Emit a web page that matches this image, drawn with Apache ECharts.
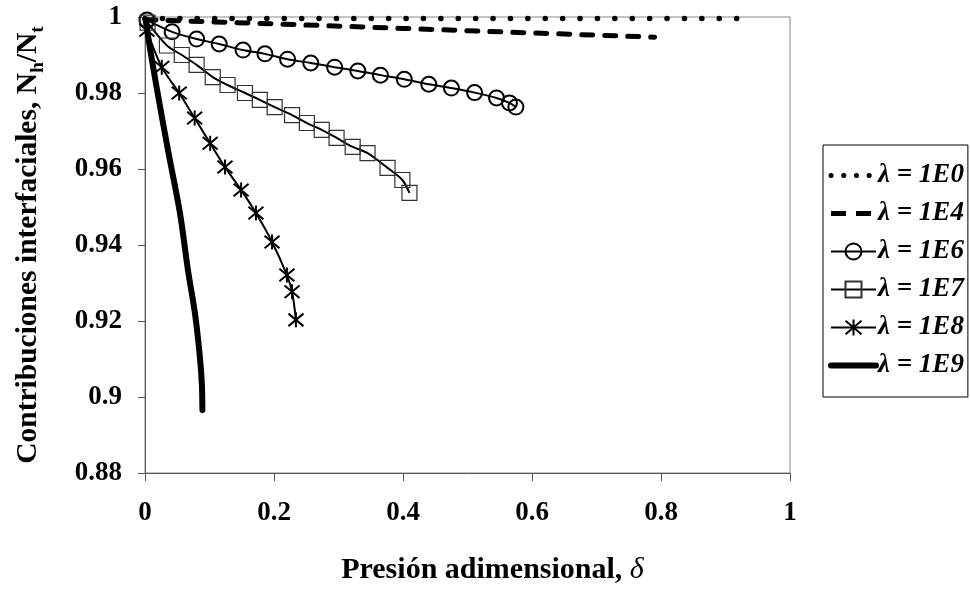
<!DOCTYPE html>
<html>
<head>
<meta charset="utf-8">
<script src="https://cdn.jsdelivr.net/npm/echarts@6/dist/echarts.min.js"></script>
<style>
html,body{margin:0;padding:0;background:#fff;}
#chart{width:970px;height:608px;}
</style>
</head>
<body>
<div id="chart"></div>
<script>
// ---- data ----
const seriesNames = ['λ = 1E0', 'λ = 1E4', 'λ = 1E6', 'λ = 1E7', 'λ = 1E8', 'λ = 1E9'];

const x1E0 = [0, 0.1, 0.2, 0.3, 0.4, 0.5, 0.6, 0.7, 0.8, 0.935];
const y1E0 = [0.9996, 0.9996, 0.9996, 0.9996, 0.9996, 0.9996, 0.9996, 0.9996, 0.9996, 0.9996];

const x1E4 = [0, 0.2, 0.4, 0.6, 0.79];
const y1E4 = [0.9993, 0.9982, 0.9970, 0.9958, 0.9947];

const x1E6 = [0.003, 0.042, 0.080, 0.115, 0.152, 0.186, 0.221, 0.257, 0.294, 0.330, 0.365, 0.402, 0.440, 0.475, 0.511, 0.545, 0.565, 0.575];
const y1E6 = [0.9992, 0.9961, 0.9942, 0.9929, 0.9913, 0.9903, 0.9889, 0.9879, 0.9868, 0.9858, 0.9847, 0.9836, 0.9823, 0.9813, 0.9801, 0.9787, 0.9774, 0.9763];

const x1E7 = [0.004, 0.034, 0.057, 0.080, 0.105, 0.128, 0.155, 0.178, 0.201, 0.228, 0.251, 0.274, 0.297, 0.322, 0.345, 0.376, 0.399, 0.410];
const y1E7 = [0.9985, 0.9925, 0.9900, 0.9874, 0.9842, 0.9821, 0.9800, 0.9782, 0.9763, 0.9742, 0.9721, 0.9703, 0.9682, 0.9658, 0.9642, 0.9603, 0.9571, 0.9537];

const x1E8 = [0.003, 0.026, 0.053, 0.077, 0.101, 0.124, 0.149, 0.172, 0.197, 0.220, 0.228, 0.234];
const y1E8 = [0.9965, 0.9868, 0.9800, 0.9734, 0.9668, 0.9605, 0.9545, 0.9484, 0.9408, 0.9321, 0.9277, 0.9203];

const x1E9 = [0.001, 0.008, 0.018, 0.0356, 0.0542, 0.0666, 0.0774, 0.0851, 0.0882, 0.089];
const y1E9 = [0.9992, 0.9915, 0.9815, 0.9650, 0.9484, 0.9334, 0.9221, 0.9105, 0.9032, 0.8966];

const xTicks = [0, 0.2, 0.4, 0.6, 0.8, 1];
const yTicks = [0.88, 0.9, 0.92, 0.94, 0.96, 0.98, 1];

function pairs(xs, ys){ return xs.map((x,i)=>[x, ys[i]]); }

const serif = '"Liberation Serif", "Times New Roman", serif';
const asterisk = 'path://M0,1L12,11M12,1L0,11M6,0L6,12';
const clear = 'rgba(255,255,255,0)';

const chart = echarts.init(document.getElementById('chart'), null, {renderer:'canvas'});
chart.setOption({
  animation:false,
  backgroundColor:'#fff',
  grid:{left:145, right:180, top:17, bottom:135, show:true, borderColor:'#888', borderWidth:1, backgroundColor:'transparent'},
  xAxis:{
    type:'value', min:xTicks[0], max:xTicks[xTicks.length-1], interval:0.2,
    axisLine:{show:true, onZero:false, lineStyle:{color:'#555', width:1}},
    axisTick:{show:true, inside:false, length:8, lineStyle:{color:'#555'}},
    splitLine:{show:false},
    axisLabel:{margin:27, fontFamily:serif, fontWeight:'bold', fontSize:27, color:'#000',
      formatter:v=>String(parseFloat(v.toFixed(2)))},
    name:'{b|Presión adimensional, }{i|δ}',
    nameLocation:'middle', nameGap:82,
    nameTextStyle:{padding:[0,0,0,50], rich:{
      b:{fontFamily:serif, fontWeight:'bold', fontSize:30, color:'#000'},
      i:{fontFamily:serif, fontStyle:'italic', fontSize:30, color:'#000'}
    }}
  },
  yAxis:{
    type:'value', min:yTicks[0], max:yTicks[yTicks.length-1], interval:0.02,
    axisLine:{show:true, onZero:false, lineStyle:{color:'#555', width:1}},
    axisTick:{show:true, inside:false, length:7, lineStyle:{color:'#555'}},
    splitLine:{show:false},
    axisLabel:{margin:23, fontFamily:serif, fontWeight:'bold', fontSize:27, color:'#000',
      formatter:v=>String(parseFloat(v.toFixed(2)))},
    name:'{b|Contribuciones interfaciales, N}{s|h}{b|/N}{s|t}',
    nameLocation:'middle', nameGap:97, nameRotate:90,
    nameTextStyle:{rich:{
      b:{fontFamily:serif, fontWeight:'bold', fontSize:29.5, color:'#000', lineHeight:40},
      s:{fontFamily:serif, fontWeight:'bold', fontSize:19.5, color:'#000', lineHeight:21, verticalAlign:'bottom'}
    }}
  },
  legend:{
    orient:'vertical', left:823, top:145,
    padding:[17, 4, 18, 5],
    itemWidth:45, itemHeight:20, itemGap:11,
    borderColor:'#000', borderWidth:1, backgroundColor:'#fff',
    textStyle:{fontFamily:serif, fontWeight:'bold', fontStyle:'italic', fontSize:27, color:'#000', padding:[0,0,0,-3]},
    data:[
      {name:seriesNames[0], lineStyle:{width:5, type:[0.1,12.6], cap:'round', color:'#000'}},
      {name:seriesNames[1], lineStyle:{width:5, type:[15,10], cap:'butt', color:'#000'}},
      {name:seriesNames[2]},
      {name:seriesNames[3]},
      {name:seriesNames[4]},
      {name:seriesNames[5], lineStyle:{width:6, color:'#000'}}
    ]
  },
  series:[
    {name:seriesNames[0], type:'line', data:pairs(x1E0,y1E0), showSymbol:false, symbol:'circle', symbolSize:0,
      lineStyle:{color:'#000', width:5.5, type:[0.1,17.3], cap:'round'}, itemStyle:{color:clear, borderWidth:0}},
    {name:seriesNames[1], type:'line', data:pairs(x1E4,y1E4), showSymbol:false, symbol:'circle', symbolSize:0,
      lineStyle:{color:'#000', width:5, type:[11,12], cap:'round'}, itemStyle:{color:clear, borderWidth:0}},
    {name:seriesNames[2], type:'line', data:pairs(x1E6,y1E6), smooth:0.3, symbol:'circle', symbolSize:15,
      lineStyle:{color:'#000', width:2},
      itemStyle:{color:clear, borderColor:'#000', borderWidth:2}},
    {name:seriesNames[3], type:'line', data:pairs(x1E7,y1E7), smooth:0.3, symbol:'rect', symbolSize:15,
      lineStyle:{color:'#000', width:2},
      itemStyle:{color:clear, borderColor:'#333', borderWidth:1.2}},
    {name:seriesNames[4], type:'line', data:pairs(x1E8,y1E8), smooth:0.3, symbol:asterisk, symbolSize:15,
      lineStyle:{color:'#000', width:2},
      itemStyle:{color:clear, borderColor:'#000', borderWidth:2}},
    {name:seriesNames[5], type:'line', data:pairs(x1E9,y1E9), smooth:0.3, showSymbol:false, symbol:'circle', symbolSize:0,
      lineStyle:{color:'#000', width:6, cap:'round'}, itemStyle:{color:clear, borderWidth:0}}
  ]
});
</script>
</body>
</html>
